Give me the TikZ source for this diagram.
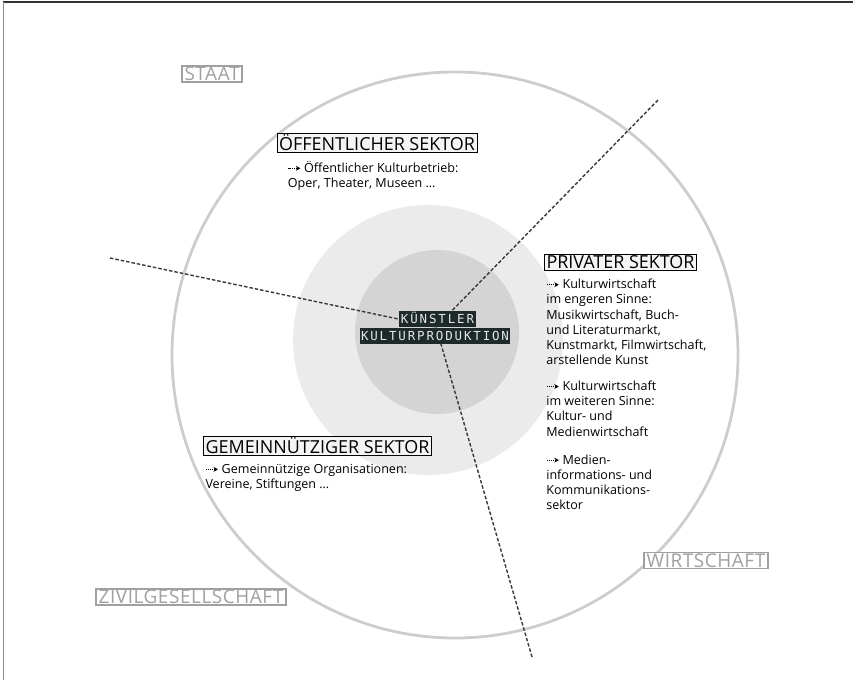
\documentclass[tikz,border=0pt]{standalone}
\usepackage{fontspec}
\setmainfont{Open Sans}
\newfontfamily\lcdfont[LetterSpace=15]{DejaVu Sans Mono}
\newfontfamily\aussenfont[LetterSpace=3]{Open Sans}
\usetikzlibrary{positioning,arrows.meta}

\definecolor{kreisrand}{HTML}{CDCDCD}
\definecolor{kreishell}{HTML}{EBEBEB}
\definecolor{kreisdunkel}{HTML}{D4D4D4}
\definecolor{lcdgrund}{HTML}{1E2929}
\definecolor{lcdtext}{HTML}{E6E6E6}
\definecolor{aussengrau}{HTML}{A0A0A0}
\definecolor{titelgrund}{HTML}{F4F4F4}

% kleiner gepunkteter Pfeil vor den Aufzaehlungen
\newcommand{\zeiger}{\tikz[baseline=-0.6ex]\draw[line width=1pt,dash pattern=on 1.1pt off 0.9pt,-{Stealth[length=4.5pt,width=5pt]}] (0,0) -- (12pt,0);\ }

\begin{document}
\begin{tikzpicture}[x=1bp,y=-1bp,
  sektor/.style={draw=black,line width=0.7pt,fill=titelgrund,inner xsep=2bp,inner ysep=1.5bp,
    font=\fontsize{18}{20}\selectfont},
  aussen/.style={draw=aussengrau,line width=1.6pt,fill=white,text=aussengrau,inner xsep=2.5bp,inner ysep=1.2bp,
    font=\aussenfont\fontsize{19}{20}\selectfont},
  liste/.style={anchor=north west,align=left,inner sep=0pt,
    font=\fontsize{12.6}{15.2}\selectfont},
  lcd/.style={fill=lcdgrund,text=lcdtext,inner xsep=1.5bp,inner ysep=3.5bp,
    text height=9bp,text depth=0bp,font=\lcdfont\fontsize{12.5}{14}\selectfont},
  trenner/.style={dash pattern=on 3.5pt off 2pt,line width=1.4pt,draw=black!78}]

\useasboundingbox (0,0) rectangle (853,680);

% Rahmen
\draw[black!80,line width=1.4pt] (3,2) -- (853,2);
\draw[black!45,line width=1.6pt] (3.5,2) -- (3.5,680);

% Kreise
\fill[kreishell] (428,340) circle (135);
\fill[kreisdunkel] (437,332) circle (82);
\draw[kreisrand,line width=2.8pt] (455,355) circle (283);

% Trennlinien zwischen den Sektoren
\coordinate (mitte) at (436,327);
\coordinate (links) at (110,258);
\coordinate (oben) at (658,100);
\coordinate (unten) at (532,657);
\draw[trenner] (links) -- (mitte);
\draw[trenner] (oben) -- (mitte);
\draw[trenner] (unten) -- (mitte);

% Kern
\node[lcd] (kuenstler) at (437.5,319) {KÜNSTLER};
\node[lcd] (kultur) at (435,335.5) {KULTURPRODUKTION};

% Sektoren
\node[sektor] (oeff) at (377,143) {ÖFFENTLICHER SEKTOR};
\node[liste] (oefftext) at ([xshift=11bp,yshift=-8bp]oeff.south west)
  {\zeiger Öffentlicher Kulturbetrieb:\\Oper, Theater, Museen \dots};

\node[sektor] (priv) at (620.5,262.5) {PRIVATER SEKTOR};
\node[liste] (privtext) at ([xshift=2bp,yshift=-8bp]priv.south west)
  {\zeiger Kulturwirtschaft\\im engeren Sinne:\\Musikwirtschaft, Buch-\\und Literaturmarkt,\\
   Kunstmarkt, Filmwirtschaft,\\arstellende Kunst\\[11bp]
   \zeiger Kulturwirtschaft\\im weiteren Sinne:\\Kultur- und\\Medienwirtschaft\\[13bp]
   \zeiger Medien-\\informations- und\\Kommunikations-\\sektor};

\node[sektor] (gemein) at (317.5,446) {GEMEINNÜTZIGER SEKTOR};
\node[liste] (gemeintext) at ([xshift=2bp,yshift=-8bp]gemein.south west)
  {\zeiger Gemeinnützige Organisationen:\\Vereine, Stiftungen \dots};

% Aussenbereiche
\node[aussen] (staat) at (212,74) {STAAT};
\node[aussen] (wirtschaft) at (706,560.5) {WIRTSCHAFT};
\node[aussen] (zivil) at (191,597) {ZIVILGESELLSCHAFT};

\end{tikzpicture}
\end{document}
